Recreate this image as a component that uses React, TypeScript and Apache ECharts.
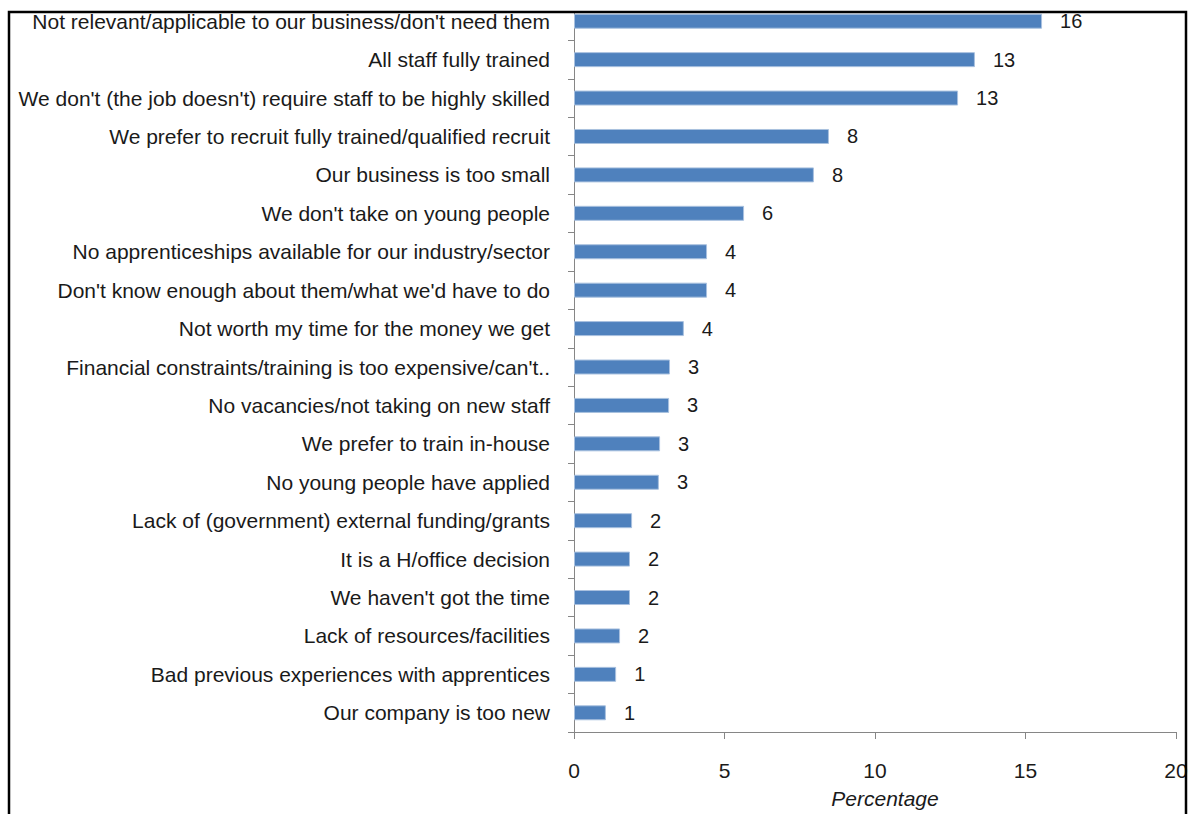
import React, { useEffect, useRef } from "react";
import * as echarts from "echarts";

const categories: string[] = [
  "Not relevant/applicable to our business/don't need them",
  "All staff fully trained",
  "We don't (the job doesn't) require staff to be highly skilled",
  "We prefer to recruit fully trained/qualified recruit",
  "Our business is too small",
  "We don't take on young people",
  "No apprenticeships available for our industry/sector",
  "Don't know enough about them/what we'd have to do",
  "Not worth my time for the money we get",
  "Financial constraints/training is too expensive/can't..",
  "No vacancies/not taking on new staff",
  "We prefer to train in-house",
  "No young people have applied",
  "Lack of (government) external funding/grants",
  "It is a H/office decision",
  "We haven't got the time",
  "Lack of resources/facilities",
  "Bad previous experiences with apprentices",
  "Our company is too new",
];

const values: number[] = [
  15.55, 13.32, 12.76, 8.47, 7.97, 5.65, 4.42, 4.42, 3.65, 3.19, 3.16, 2.86,
  2.82, 1.93, 1.86, 1.86, 1.53, 1.4, 1.06,
];

const valueLabels: string[] = [
  "16", "13", "13", "8", "8", "6", "4", "4", "4", "3", "3", "3", "3", "2",
  "2", "2", "2", "1", "1",
];

const xTicks = { min: 0, max: 20, interval: 5 };
const axisName = "Percentage";

export default function App() {
  const ref = useRef<HTMLDivElement>(null);
  useEffect(() => {
    document.body.style.margin = "0";
    if (!ref.current) return;
    const chart = echarts.init(ref.current, undefined, { renderer: "svg" });
    const font = "'Liberation Sans', Arial, sans-serif";
    const textColor = "#1a1a1a";
    chart.setOption({
      animation: false,
      backgroundColor: "#ffffff",
      grid: { left: 574, right: 15, top: 2, bottom: 75.5, containLabel: false },
      xAxis: {
        type: "value",
        min: xTicks.min,
        max: xTicks.max,
        interval: xTicks.interval,
        splitLine: { show: false },
        axisLine: { show: true, lineStyle: { color: "#868686", width: 1 } },
        axisTick: { show: true, length: 7, lineStyle: { color: "#868686" } },
        axisLabel: { color: textColor, fontSize: 21, fontFamily: font, margin: 28 },
        name: axisName,
        nameLocation: "middle",
        nameGap: 56,
        nameTextStyle: {
          color: textColor,
          fontSize: 21,
          fontStyle: "italic",
          fontFamily: font,
          padding: [0, 0, 0, 20],
        },
      },
      yAxis: {
        type: "category",
        inverse: true,
        data: categories,
        axisLine: { show: true, lineStyle: { color: "#868686", width: 1 } },
        axisTick: { show: true, length: 6, lineStyle: { color: "#868686" } },
        axisLabel: { color: textColor, fontSize: 21, fontFamily: font, margin: 24 },
      },
      series: [
        {
          type: "bar",
          data: values,
          barWidth: 15,
          itemStyle: { color: "#4F81BD", borderColor: "#A9C1DF", borderWidth: 1 },
          label: {
            show: true,
            position: "right",
            distance: 18,
            color: textColor,
            fontSize: 20,
            fontFamily: font,
            formatter: (p: any) => valueLabels[p.dataIndex],
          },
        },
      ],
      graphic: [
        { type: "rect", z: 100, shape: { x: 0, y: 0, width: 1191, height: 11 }, style: { fill: "#ffffff" } },
        {
          type: "rect",
          z: 101,
          shape: { x: 9, y: 12, width: 1177, height: 830 },
          style: { fill: "none", stroke: "#000", lineWidth: 2.5 },
        },
      ],
    });
    return () => chart.dispose();
  }, []);
  return <div ref={ref} style={{ width: 1191, height: 814 }} />;
}
